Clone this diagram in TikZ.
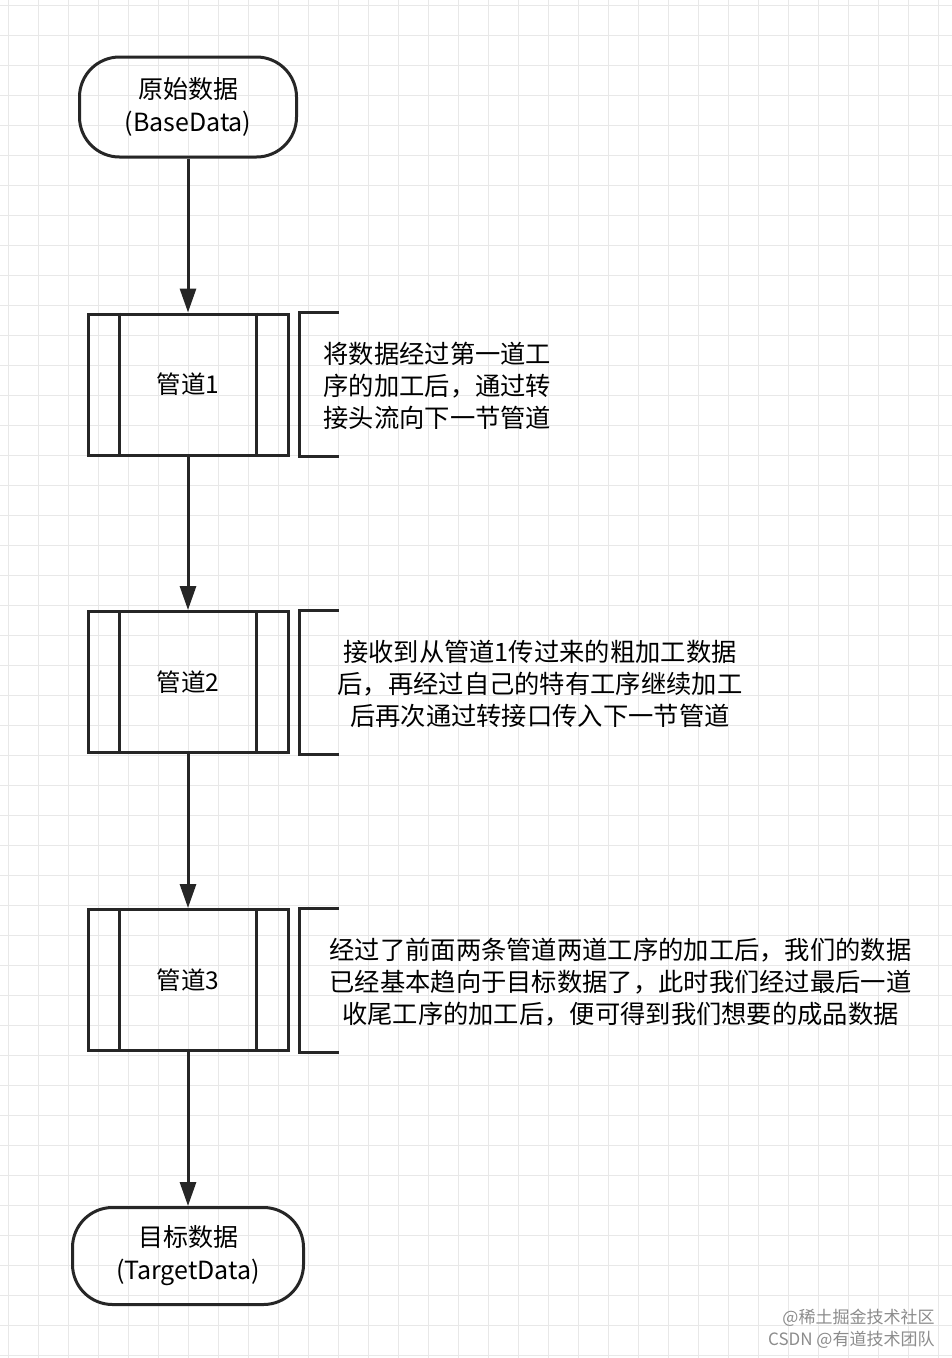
\documentclass[tikz,border=0pt]{standalone}
\usepackage{fontspec}
\setmainfont{Noto Sans CJK SC}
\usetikzlibrary{arrows.meta}
\begin{document}
\begin{tikzpicture}[x=1pt,y=-1pt,
  line width=3pt,
  term/.style={draw=black!85,rounded corners=40pt,minimum width=217pt,minimum height=100pt,align=center,font=\fontsize{25}{33}\selectfont,inner sep=0pt},
  proc/.style={draw=black!85,minimum width=200pt,minimum height=141pt,inner sep=0pt,font=\fontsize{24.5}{30}\selectfont},
  note/.style={align=center,font=\fontsize{25.3}{32}\selectfont,anchor=west,inner sep=0pt},
  arr/.style={draw=black!85,-{Triangle[length=24pt,width=16pt]}}]
\useasboundingbox (0,0) rectangle (952,1358);
\fill[white] (0,0) rectangle (952,1358);
\foreach \i in {0,...,45} {\draw[line width=1pt,black!9] (\i*30+8,0) -- (\i*30+8,1358);}
\foreach \i in {0,...,45} {\draw[line width=1pt,black!9] (0,\i*30+5) -- (952,\i*30+5);}
\node[term] (s) at (188,107) {原始数据\\(BaseData)};
\node[term,minimum width=231pt,minimum height=97pt] (t) at (188,1256) {目标数据\\(TargetData)};
\foreach \n/\y/\l in {p1/384.5/管道1,p2/682/管道2,p3/980/管道3}{
  \node[proc] (\n) at (188,\y) {\l};
  \draw[black!85] ([xshift=33pt]\n.north west) -- ([xshift=33pt]\n.south west);
  \draw[black!85] ([xshift=-33pt]\n.north east) -- ([xshift=-33pt]\n.south east);
  \draw[black!85] ([xshift=49pt]\n.north east) -- ([xshift=10pt]\n.north east) -- ([xshift=10pt]\n.south east) -- ([xshift=49pt]\n.south east);
}
\draw[arr] (s) -- (p1);
\draw[arr] (p1) -- (p2);
\draw[arr] (p2) -- (p3);
\draw[arr] (p3) -- (t);
\node[note] (n1) at (322,386) {将数据经过第一道工\\序的加工后，通过转\\接头流向下一节管道};
\node[note] (n2) at (336,684) {接收到从管道1传过来的粗加工数据\\后，再经过自己的特有工序继续加工\\后再次通过转接口传入下一节管道};
\node[note] (n3) at (328,982) {经过了前面两条管道两道工序的加工后，我们的数据\\已经基本趋向于目标数据了，此时我们经过最后一道\\收尾工序的加工后，便可得到我们想要的成品数据};
\node[align=right,anchor=east,text=black!45,font=\fontsize{17}{22}\selectfont,inner sep=0pt] (wm) at (936,1329) {@稀土掘金技术社区\\CSDN @有道技术团队};
\end{tikzpicture}
\end{document}
